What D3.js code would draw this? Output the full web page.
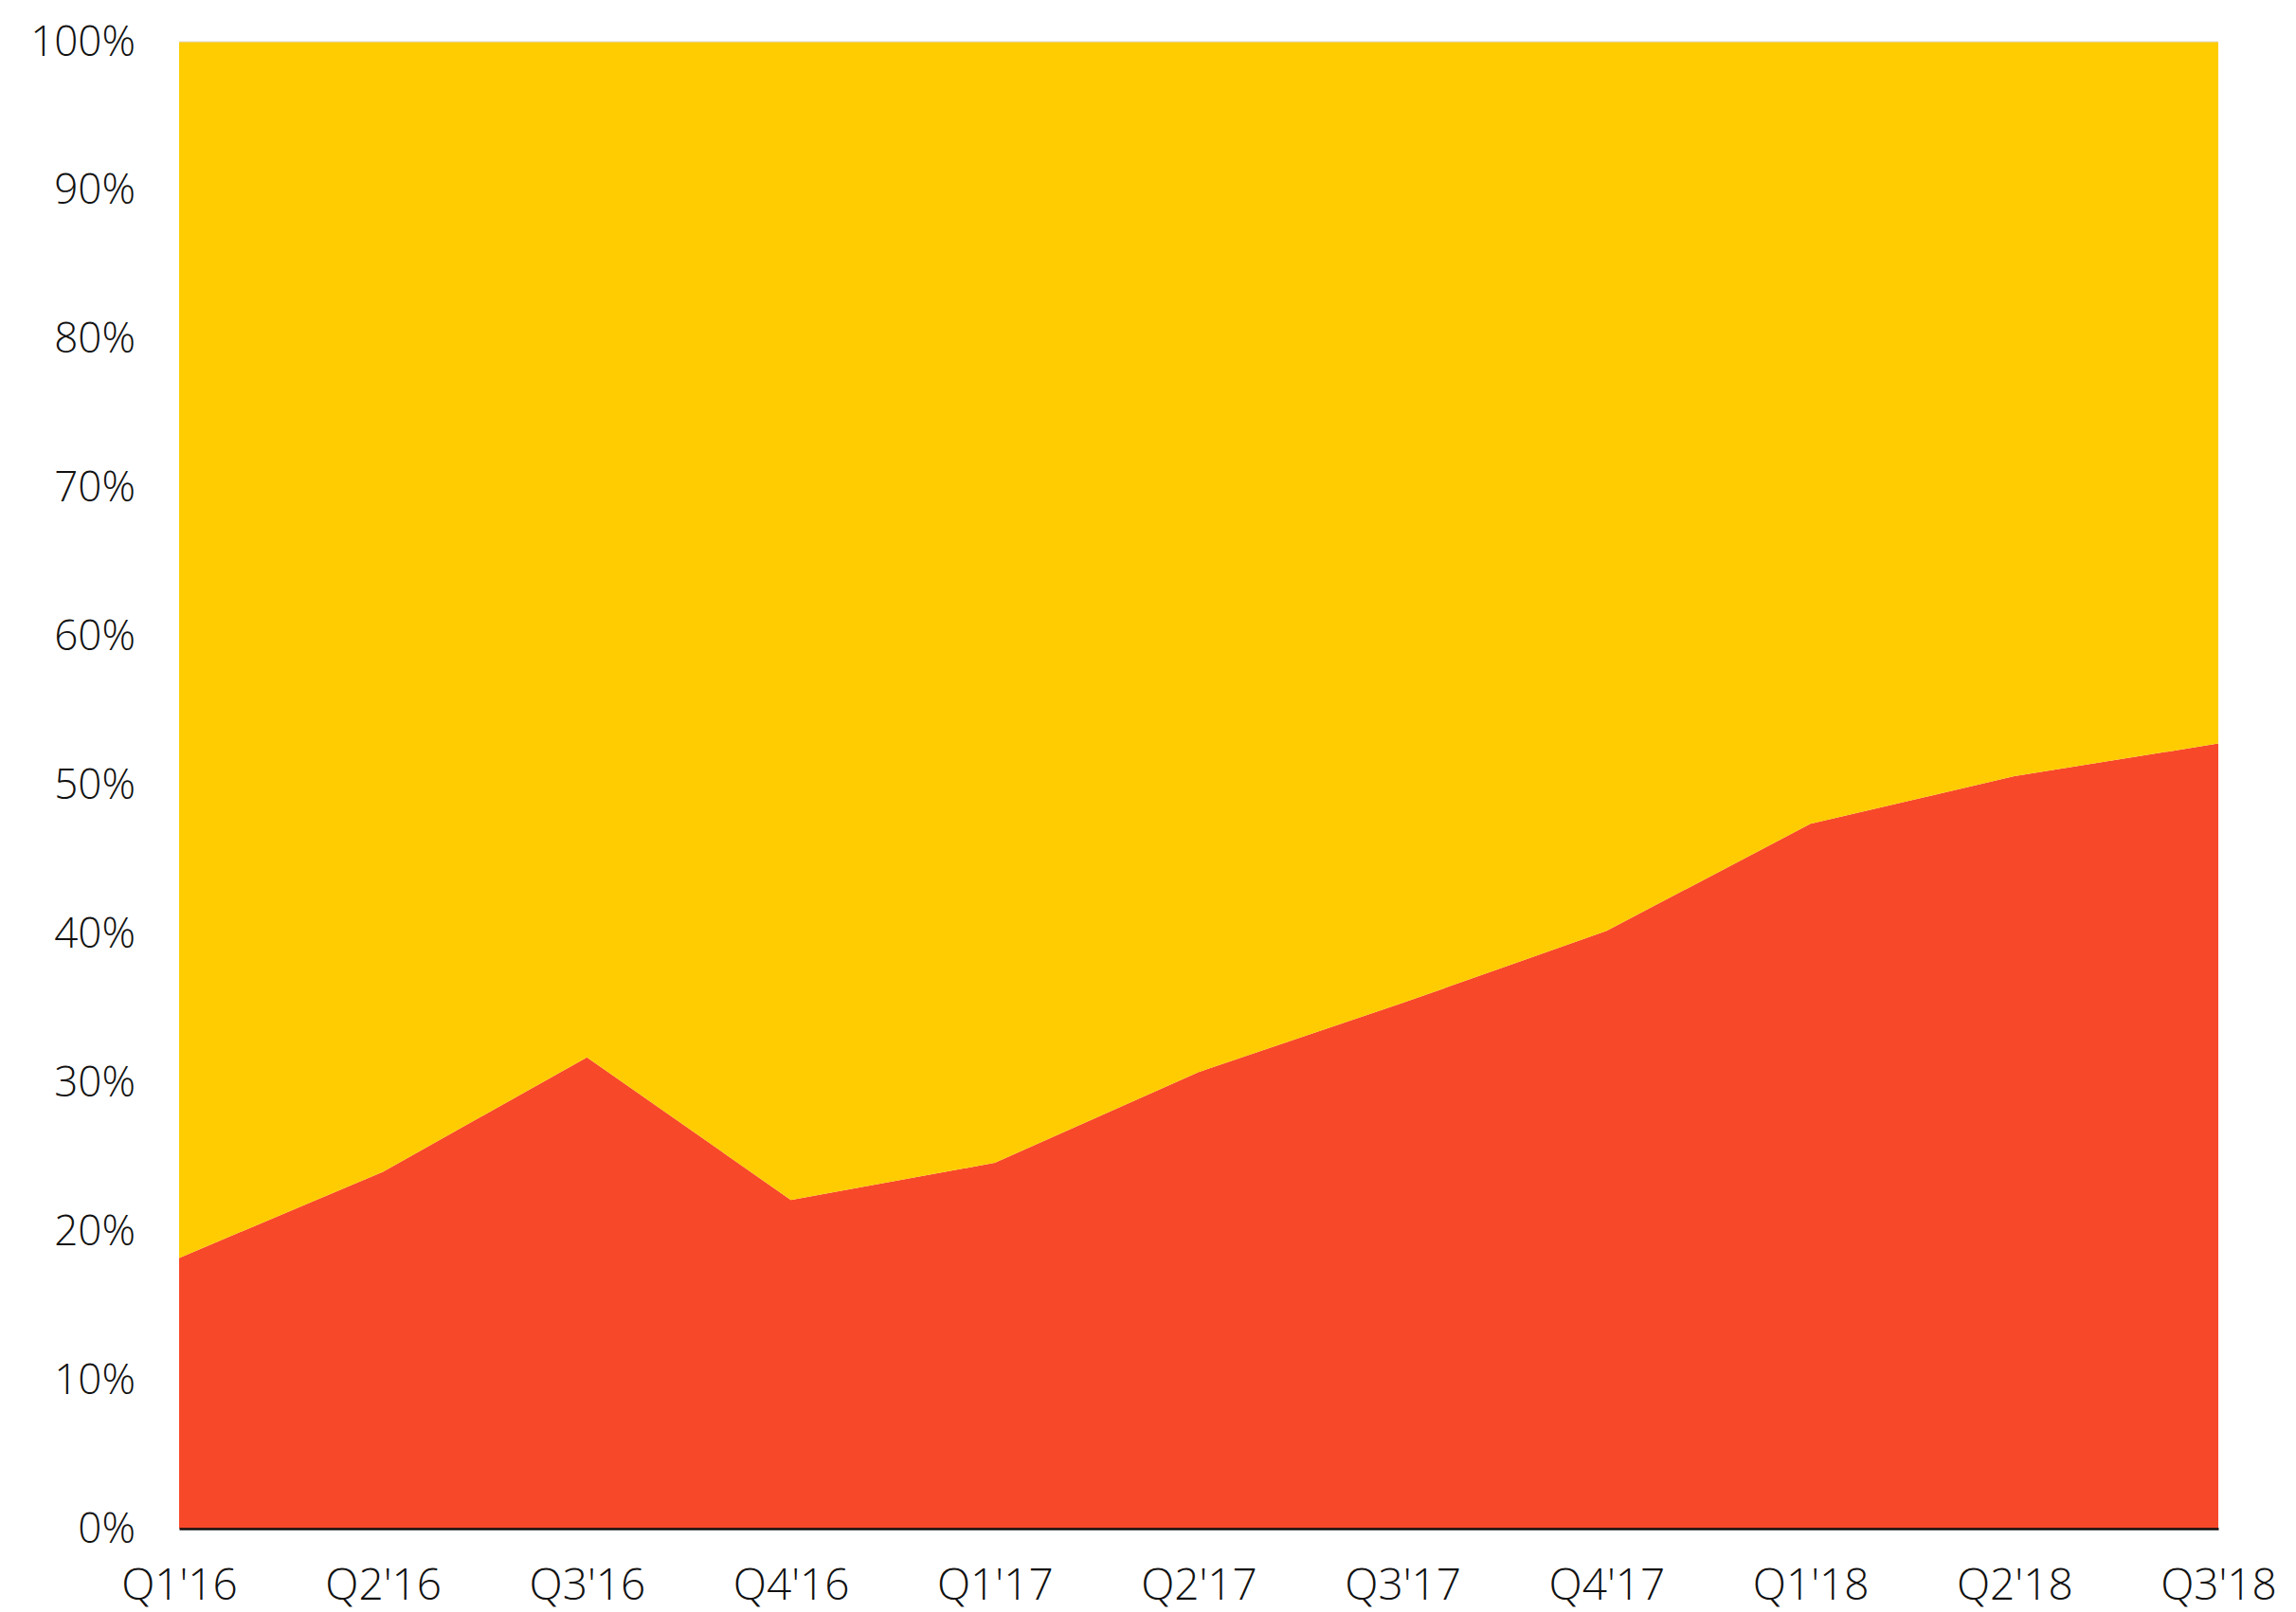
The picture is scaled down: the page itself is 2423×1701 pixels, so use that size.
<!DOCTYPE html>
<html>
<head>
<meta charset="utf-8">
<script src="https://cdn.jsdelivr.net/npm/d3@7"></script>
<style>
  html, body { margin: 0; padding: 0; background: #fff; }
  svg text { font-family: "Open Sans", sans-serif; font-weight: 300; fill: #111; }
</style>
</head>
<body>
<svg id="chart"></svg>
<script>
const quarters = ["Q1'16", "Q2'16", "Q3'16", "Q4'16", "Q1'17", "Q2'17", "Q3'17", "Q4'17", "Q1'18", "Q2'18", "Q3'18"];
const redShare = [18.2, 24.0, 31.7, 22.1, 24.6, 30.7, 35.35, 40.2, 47.4, 50.6, 52.8];
const yellowShare = [81.8, 76.0, 68.3, 77.9, 75.4, 69.3, 64.65, 59.8, 52.6, 49.4, 47.2];
const yTicks = [0, 10, 20, 30, 40, 50, 60, 70, 80, 90, 100];
const colors = ["#f8482a", "#fecc00"];

const width = 2423, height = 1701;
const margin = { top: 44, right: 82, bottom: 88, left: 189 };

const svg = d3.select("#chart")
  .attr("width", width)
  .attr("height", height);

const rows = quarters.map((q, i) => ({ q: q, red: redShare[i], yellow: yellowShare[i] }));
const stacked = d3.stack().keys(["red", "yellow"])(rows);

const x = d3.scalePoint().domain(quarters).range([margin.left, width - margin.right]);
const y = d3.scaleLinear().domain([0, 100]).range([height - margin.bottom, margin.top]);

// areas
svg.append("g")
  .selectAll("path")
  .data(stacked)
  .enter()
  .append("path")
  .attr("fill", (d, i) => colors[i])
  .attr("d", d3.area()
    .x(d => x(d.data.q))
    .y0(d => y(d[0]))
    .y1(d => y(d[1])));

// faint top edge
svg.append("line")
  .attr("x1", x.range()[0]).attr("x2", x.range()[1])
  .attr("y1", y(100)).attr("y2", y(100))
  .attr("stroke", "#dcdcdc").attr("stroke-width", 1);

// y axis labels
const yAxis = svg.append("g")
  .attr("transform", `translate(${margin.left}, 0)`)
  .call(d3.axisLeft(y).tickValues(yTicks).tickFormat(d => d + "%").tickSize(0).tickPadding(46));
yAxis.select(".domain").remove();
yAxis.selectAll("text").attr("font-size", 44);

// x axis
const xAxis = svg.append("g")
  .attr("transform", `translate(0, ${y(0)})`)
  .call(d3.axisBottom(x).tickSize(0).tickPadding(42));
xAxis.select(".domain").attr("stroke", "#111").attr("stroke-width", 2.5);
xAxis.selectAll("text").attr("font-size", 46);
svg.selectAll("g").attr("font-family", null);
</script>
</body>
</html>
